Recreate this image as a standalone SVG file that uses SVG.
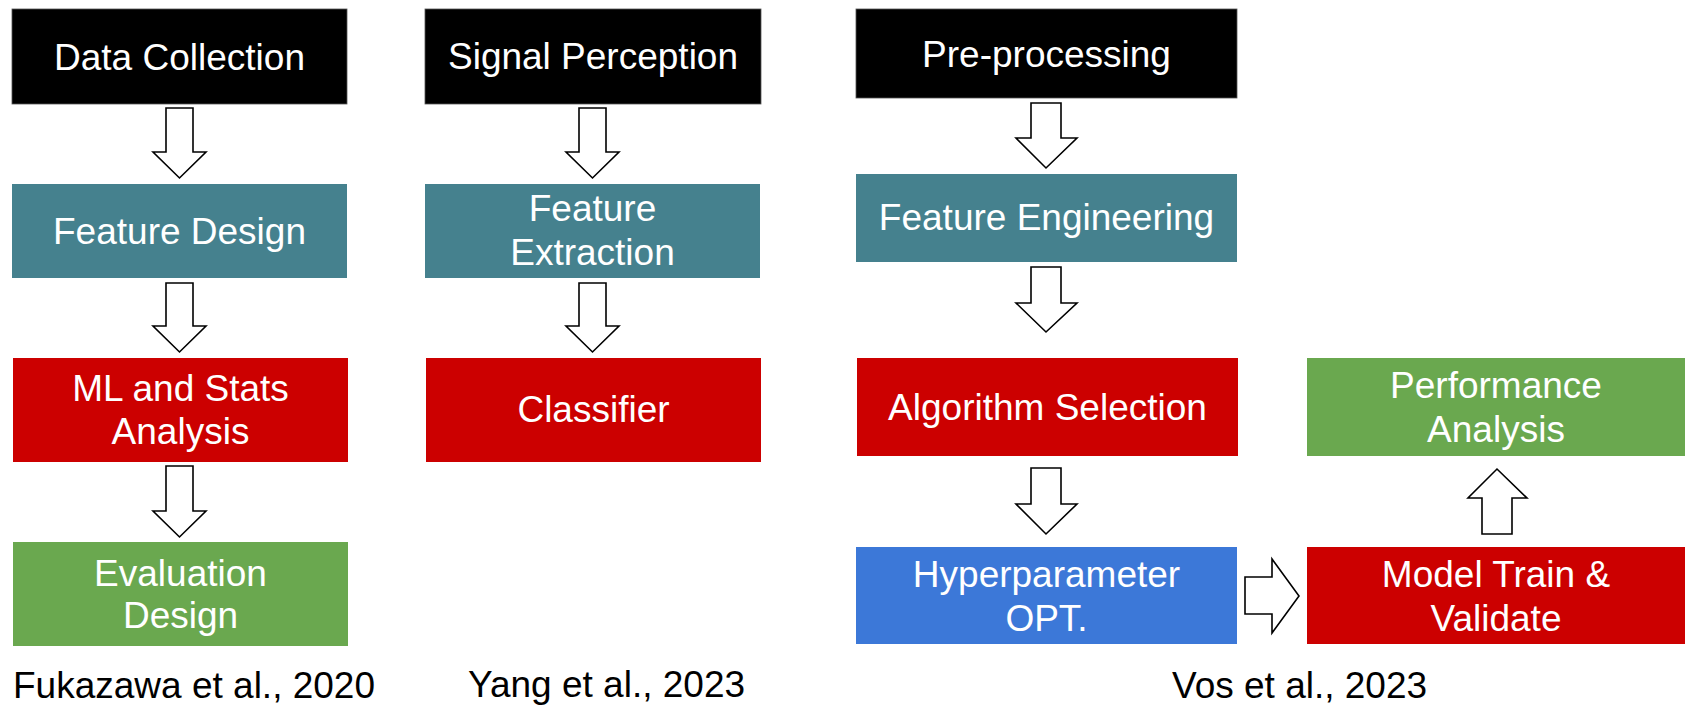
<svg xmlns="http://www.w3.org/2000/svg" width="1685" height="705" viewBox="0 0 1685 705">
  <style>
    text { font-family: "Liberation Sans", Arial, sans-serif; font-size: 37px; }
    .lbl { fill: #ffffff; text-anchor: middle; }
    .cite { fill: #000000; }
    .black { fill: #000000; stroke: #555555; stroke-width: 0.8; }
    .teal { fill: #45818e; }
    .red { fill: #cc0000; }
    .green { fill: #6aa84f; }
    .blue { fill: #3c78d8; }
    .arrow { fill: #ffffff; stroke: #000000; stroke-width: 1.6; stroke-linejoin: miter; }
  </style>

  <!-- Column 1: Fukazawa et al. -->
  <g id="data-collection">
    <rect class="black" x="12" y="9" width="335" height="95"/>
    <text class="lbl" x="179.5" y="70">Data Collection</text>
  </g>
  <g id="feature-design">
    <rect class="teal" x="12" y="184" width="335" height="94"/>
    <text class="lbl" x="179.5" y="244">Feature Design</text>
  </g>
  <g id="ml-stats-analysis">
    <rect class="red" x="13" y="358" width="335" height="104"/>
    <text class="lbl" x="180.5" y="401">ML and Stats</text>
    <text class="lbl" x="180.5" y="444">Analysis</text>
  </g>
  <g id="evaluation-design">
    <rect class="green" x="13" y="542" width="335" height="104"/>
    <text class="lbl" x="180.5" y="586">Evaluation</text>
    <text class="lbl" x="180.5" y="628">Design</text>
  </g>

  <!-- Column 2: Yang et al. -->
  <g id="signal-perception">
    <rect class="black" x="425" y="9" width="336" height="95"/>
    <text class="lbl" x="593" y="69">Signal Perception</text>
  </g>
  <g id="feature-extraction">
    <rect class="teal" x="425" y="184" width="335" height="94"/>
    <text class="lbl" x="592.5" y="221">Feature</text>
    <text class="lbl" x="592.5" y="265">Extraction</text>
  </g>
  <g id="classifier">
    <rect class="red" x="426" y="358" width="335" height="104"/>
    <text class="lbl" x="593.5" y="422">Classifier</text>
  </g>

  <!-- Column 3: Vos et al. -->
  <g id="pre-processing">
    <rect class="black" x="856" y="9" width="381" height="89"/>
    <text class="lbl" x="1046.5" y="67">Pre-processing</text>
  </g>
  <g id="feature-engineering">
    <rect class="teal" x="856" y="174" width="381" height="88"/>
    <text class="lbl" x="1046.5" y="230">Feature Engineering</text>
  </g>
  <g id="algorithm-selection">
    <rect class="red" x="857" y="358" width="381" height="98"/>
    <text class="lbl" x="1047.5" y="420">Algorithm Selection</text>
  </g>
  <g id="hyperparameter-opt">
    <rect class="blue" x="856" y="547" width="381" height="97"/>
    <text class="lbl" x="1046.5" y="587">Hyperparameter</text>
    <text class="lbl" x="1046.5" y="631">OPT.</text>
  </g>
  <g id="model-train-validate">
    <rect class="red" x="1307" y="547" width="378" height="97"/>
    <text class="lbl" x="1496" y="587">Model Train &amp;</text>
    <text class="lbl" x="1496" y="631">Validate</text>
  </g>
  <g id="performance-analysis">
    <rect class="green" x="1307" y="358" width="378" height="98"/>
    <text class="lbl" x="1496" y="398">Performance</text>
    <text class="lbl" x="1496" y="442">Analysis</text>
  </g>

  <!-- Block arrows between stages -->
  <g id="connectors">
    <polygon class="arrow" points="166,108 193,108 193,152 206,152 179.5,178 153,152 166,152"/>
    <polygon class="arrow" points="166,283 193,283 193,326 206,326 179.5,352 153,326 166,326"/>
    <polygon class="arrow" points="166,466 193,466 193,511 206,511 179.5,537 153,511 166,511"/>

    <polygon class="arrow" points="579,108 606,108 606,152 619,152 592.5,178 566,152 579,152"/>
    <polygon class="arrow" points="579,283 606,283 606,326 619,326 592.5,352 566,326 579,326"/>

    <polygon class="arrow" points="1031,103 1061,103 1061,138 1077,138 1046,168 1016,138 1031,138"/>
    <polygon class="arrow" points="1031,267 1061,267 1061,303 1077,303 1046,332 1016,303 1031,303"/>
    <polygon class="arrow" points="1031,468 1061,468 1061,504 1077,504 1046,534 1016,504 1031,504"/>

    <polygon class="arrow" points="1245,577 1272,577 1272,559 1299,596 1272,633 1272,614 1245,614"/>

    <polygon class="arrow" points="1482,534 1512,534 1512,498 1527,498 1497,469 1468,498 1482,498"/>
  </g>

  <!-- Source captions -->
  <g id="captions">
    <text class="cite" x="13" y="698">Fukazawa et al., 2020</text>
    <text class="cite" x="468" y="697">Yang et al., 2023</text>
    <text class="cite" x="1172" y="698">Vos et al., 2023</text>
  </g>
</svg>
